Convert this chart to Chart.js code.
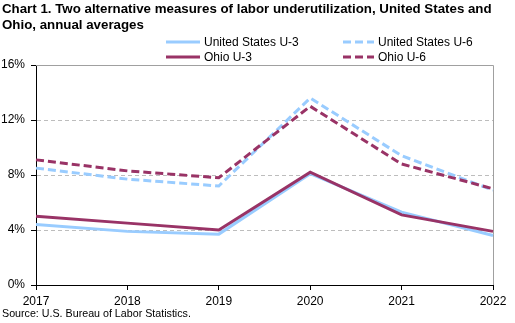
<!DOCTYPE html>
<html><head><meta charset="utf-8">
<script src="https://cdn.jsdelivr.net/npm/chart.js@4.4.0/dist/chart.umd.min.js"></script>
<style>
html,body{margin:0;padding:0;background:#fff;}
#wrap{position:relative;width:515px;height:323px;overflow:hidden;font-family:"Liberation Sans",Arial,sans-serif;color:#000;}
#title{position:absolute;left:2px;top:1px;font-weight:bold;font-size:13.3px;line-height:16px;white-space:nowrap;}
#src{position:absolute;left:2px;top:307px;font-size:10.7px;white-space:nowrap;}
canvas{position:absolute;left:0;top:0;}
</style></head><body>
<div id="wrap"><canvas id="c" width="515" height="323"></canvas>
<div id="title">Chart 1. Two alternative measures of labor underutilization, United States and<br>Ohio, annual averages</div>
<div id="src">Source: U.S. Bureau of Labor Statistics.</div></div>
<script>
const years = ["2017","2018","2019","2020","2021","2022"];
const usU3 = [4.4, 3.9, 3.7, 8.1, 5.3, 3.6];
const usU6 = [8.5, 7.7, 7.2, 13.6, 9.4, 6.9];
const ohU3 = [5.0, 4.5, 4.0, 8.2, 5.1, 3.9];
const ohU6 = [9.1, 8.3, 7.8, 13.0, 8.8, 7.0];
const yTicks = [0, 4, 8, 12, 16];

const BLUE = "#99CCFF", PURPLE = "#993366";
const FONT = '"Liberation Sans", Arial, sans-serif';

const legendPlugin = {
  id: "customLegend",
  afterDraw(chart) {
    const ctx = chart.ctx;
    const ds = chart.data.datasets;
    const pos = [
      {x1:166, x2:200, tx:204, y:42},
      {x1:343, x2:374, tx:378, y:42},
      {x1:166, x2:200, tx:204, y:57},
      {x1:343, x2:374, tx:378, y:57}
    ];
    ctx.save();
    ds.forEach((d, i) => {
      const p = pos[i];
      ctx.beginPath();
      ctx.lineWidth = 3;
      ctx.strokeStyle = d.borderColor;
      ctx.setLineDash(d.borderDash || []);
      ctx.moveTo(p.x1, p.y); ctx.lineTo(p.x2, p.y);
      ctx.stroke();
      ctx.setLineDash([]);
      ctx.fillStyle = "#000";
      ctx.font = "12px " + FONT;
      ctx.textBaseline = "middle";
      ctx.textAlign = "left";
      ctx.fillText(d.label, p.tx, p.y + 0.5);
    });
    ctx.restore();
  }
};

const framePlugin = {
  id: "frame",
  beforeDatasetsDraw(chart) {
    const a = chart.chartArea, ctx = chart.ctx;
    ctx.save();
    ctx.strokeStyle = "#A0A0A0";
    ctx.lineWidth = 1;
    ctx.beginPath();
    ctx.moveTo(a.left, Math.round(a.top) + 0.5);
    ctx.lineTo(Math.round(a.right) + 0.5, Math.round(a.top) + 0.5);
    ctx.lineTo(Math.round(a.right) + 0.5, a.bottom);
    ctx.stroke();
    ctx.restore();
  }
};

new Chart(document.getElementById("c"), {
  type: "line",
  data: {
    labels: years,
    datasets: [
      {label:"United States U-3", data:usU3, borderColor:BLUE, borderWidth:3, borderDash:[], order:1},
      {label:"United States U-6", data:usU6, borderColor:BLUE, borderWidth:3, borderDash:[8,4], order:1},
      {label:"Ohio U-3", data:ohU3, borderColor:PURPLE, borderWidth:3, borderDash:[], order:0},
      {label:"Ohio U-6", data:ohU6, borderColor:PURPLE, borderWidth:3, borderDash:[8,4], order:0}
    ]
  },
  options: {
    responsive:false, animation:false,
    layout:{padding:{top:65, right:22, left:0, bottom:0}},
    elements:{point:{radius:0}, line:{tension:0, fill:false, borderCapStyle:"butt"}},
    plugins:{legend:{display:false}, tooltip:{enabled:false}, title:{display:false}},
    scales:{
      x:{
        offset:false,
        grid:{drawOnChartArea:false, drawTicks:true, tickLength:5, tickColor:"#000", offset:false},
        border:{color:"#000", width:1},
        ticks:{color:"#000", font:{family:FONT, size:12}, padding:4, maxRotation:0, autoSkip:false},
        afterFit(s){ s.height = 38; }
      },
      y:{
        min:0, max:16,
        afterBuildTicks(s){ s.ticks = yTicks.map(v => ({value:v})); },
        grid:{color:(c)=> (c.tick && (c.tick.value===0 || c.tick.value===16)) ? "rgba(0,0,0,0)" : "#BDBDBD",
              tickColor:"#000", tickLength:5, lineWidth:1},
        border:{color:"#000", width:1, dash:[4,3]},
        ticks:{color:"#000", font:{family:FONT, size:12}, padding:6, callback:(v)=> v + "%"},
        afterFit(s){ s.width = 36; }
      }
    }
  },
  plugins:[legendPlugin, framePlugin]
});
</script>
</body></html>
